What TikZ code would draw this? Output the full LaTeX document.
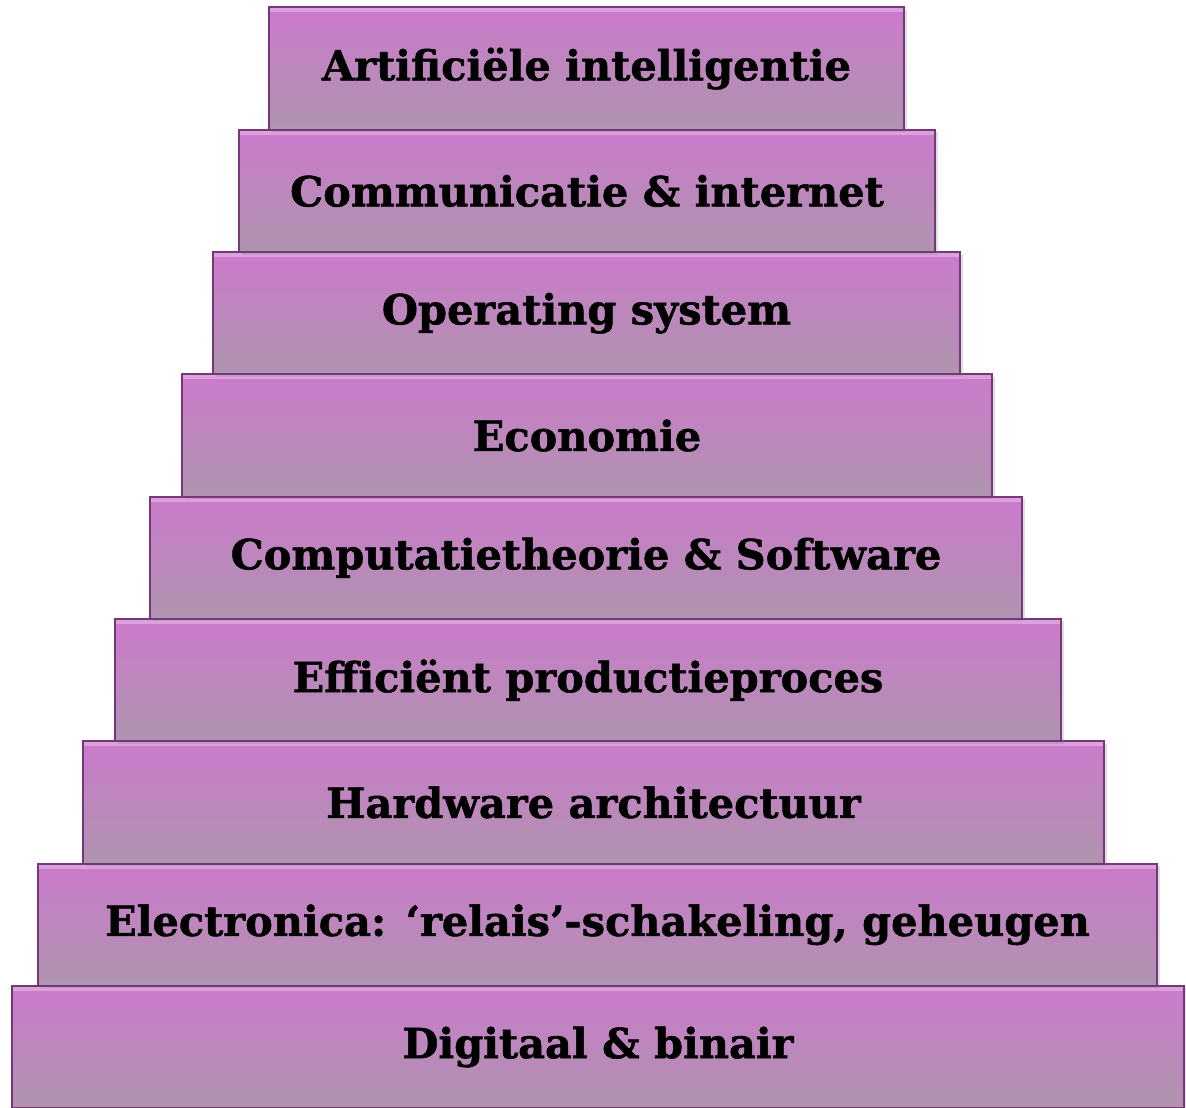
\documentclass[tikz,border=0pt]{standalone}
\usepackage{fontspec}
\setmainfont{DejaVu Serif}[BoldFeatures={FakeBold=1.2}]
\usetikzlibrary{positioning,shadows}
\definecolor{steptop}{RGB}{203,122,203}
\definecolor{stepbot}{RGB}{174,148,174}
\definecolor{stepline}{RGB}{118,54,124}
\tikzstyle{stair} = [rectangle, 
minimum height=122.3pt, 
inner sep=0pt,
text centered, 
draw=stepline, 
line width=2pt,
top color=steptop, 
bottom color=stepbot,
font=\fontsize{41.5}{46}\selectfont\bfseries,
drop shadow={shadow xshift=2.5pt, shadow yshift=-2.5pt, opacity=0.25},
path picture={\fill[white, opacity=0.3] (path picture bounding box.north west) rectangle ([yshift=-5pt]path picture bounding box.north east);}]

\begin{document}
\begin{tikzpicture}[node distance=122.3pt]
	\useasboundingbox (0,0) rectangle (1186pt,-1108pt);
	
	% bottom step first, so the upper shadows fall on the lower steps
	\node (st9) [stair, minimum width=1172pt] at (598pt,-1047pt) {Digitaal \& binair};
	\node (st8) [stair, minimum width=1119pt, above of=st9, xshift=-0.5pt] {Electronica: ‘relais’-schakeling, geheugen};
	\node (st7) [stair, minimum width=1021pt, above of=st8, xshift=-4pt] {Hardware architectuur};
	\node (st6) [stair, minimum width=946pt, above of=st7, xshift=-5.5pt] {Efficiënt productieproces};
	\node (st5) [stair, minimum width=872pt, above of=st6, xshift=-2pt] {Computatietheorie \& Software};
	\node (st4) [stair, minimum width=810pt, above of=st5, xshift=1pt] {Economie};
	\node (st3) [stair, minimum width=747pt, above of=st4, xshift=-0.5pt] {Operating system};
	\node (st2) [stair, minimum width=696pt, above of=st3, xshift=0.5pt] {Communicatie \& internet};
	\node (st1) [stair, minimum width=635pt, above of=st2, xshift=-0.5pt] {Artificiële intelligentie};
	
\end{tikzpicture}
\end{document}
